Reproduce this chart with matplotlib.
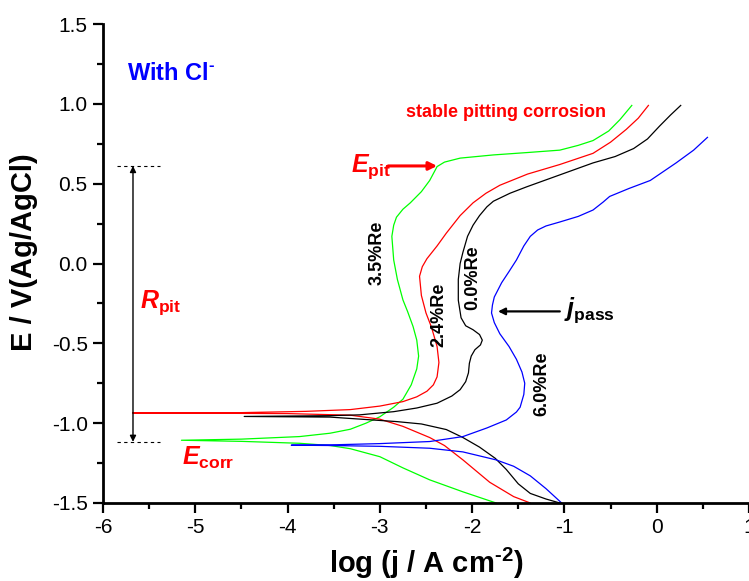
import matplotlib
matplotlib.use('Agg')
import matplotlib.pyplot as plt

plt.rcParams['font.family'] = ['Liberation Sans', 'DejaVu Sans']
plt.rcParams['mathtext.fontset'] = 'custom'
plt.rcParams['mathtext.rm'] = 'Liberation Sans:bold'
plt.rcParams['mathtext.bf'] = 'Liberation Sans:bold'
plt.rcParams['mathtext.it'] = 'Liberation Sans:italic:bold'

# curves: cathodic branch (from -1.5 V up to Ecorr), then anodic branch
red_x = [-1.37, -1.55, -1.81, -2.10, -2.30, -2.46, -2.75, -3.00, -3.32, -4.00, -5.68,
         -4.50, -3.80, -3.32, -3.00, -2.75, -2.60, -2.49, -2.42, -2.38, -2.36, -2.38, -2.44,
         -2.50, -2.55, -2.57, -2.54, -2.49, -2.38, -2.28, -2.13, -1.99, -1.85, -1.70, -1.40,
         -1.05, -0.69, -0.50, -0.33, -0.20, -0.09]
red_y = [-1.50, -1.46, -1.37, -1.23, -1.14, -1.09, -1.02, -0.975, -0.950, -0.940, -0.936,
         -0.934, -0.926, -0.915, -0.893, -0.865, -0.835, -0.800, -0.76, -0.71, -0.62, -0.52, -0.40,
         -0.31, -0.20, -0.08, -0.02, 0.03, 0.11, 0.19, 0.30, 0.38, 0.44, 0.49, 0.56,
         0.62, 0.69, 0.76, 0.84, 0.91, 0.99]

green_x = [-1.74, -2.10, -2.46, -2.75, -3.00, -3.32, -3.54, -3.87, -4.50, -5.15,
           -4.50, -3.87, -3.54, -3.32, -3.15, -3.00, -2.85, -2.75, -2.66, -2.60, -2.58, -2.60,
           -2.64, -2.70, -2.75, -2.81, -2.85, -2.87, -2.85, -2.82, -2.75, -2.67, -2.55, -2.46,
           -2.40, -2.38, -2.30, -2.13, -1.77, -1.40, -1.05, -0.85, -0.69, -0.52, -0.40, -0.27]
green_y = [-1.50, -1.43, -1.355, -1.28, -1.21, -1.16, -1.14, -1.126, -1.114, -1.107,
           -1.100, -1.084, -1.063, -1.038, -1.00, -0.96, -0.90, -0.85, -0.76, -0.66, -0.58, -0.48,
           -0.395, -0.30, -0.228, -0.10, 0.022, 0.17, 0.24, 0.29, 0.34, 0.38, 0.45, 0.52,
           0.585, 0.607, 0.635, 0.66, 0.68, 0.695, 0.71, 0.74, 0.77, 0.83, 0.90, 0.99]

black_x = [-1.05, -1.20, -1.37, -1.50, -1.63, -1.75, -1.92, -2.10, -2.28, -2.55, -2.82, -3.54, -4.47,
           -3.54, -3.22, -2.85, -2.60, -2.38, -2.22, -2.13, -2.07, -2.04, -2.03, -2.01, -1.97,
           -1.91, -1.89, -1.92, -1.99, -2.07, -2.12, -2.15, -2.15, -2.13, -2.10, -2.05, -1.99,
           -1.92, -1.84, -1.77, -1.59, -1.41, -1.05, -0.69, -0.45, -0.25, -0.10, 0.03, 0.15, 0.26]
black_y = [-1.50, -1.475, -1.44, -1.38, -1.29, -1.22, -1.15, -1.09, -1.04, -1.005, -0.99, -0.962, -0.958,
           -0.953, -0.948, -0.928, -0.905, -0.875, -0.83, -0.79, -0.74, -0.685, -0.625, -0.58, -0.54,
           -0.51, -0.48, -0.445, -0.415, -0.39, -0.34, -0.23, -0.10, 0.0, 0.07, 0.17, 0.24,
           0.30, 0.355, 0.39, 0.44, 0.48, 0.555, 0.63, 0.67, 0.72, 0.78, 0.86, 0.93, 0.99]

blue_x = [-1.03, -1.20, -1.37, -1.55, -1.74, -2.10, -2.46, -3.00, -3.54, -3.96,
          -3.54, -3.00, -2.46, -2.10, -1.84, -1.63, -1.52, -1.48, -1.44, -1.43, -1.46, -1.52,
          -1.60, -1.70, -1.76, -1.79, -1.78, -1.76, -1.68, -1.60, -1.52, -1.44, -1.37, -1.29, -1.20,
          -1.05, -0.85, -0.69, -0.58, -0.51, -0.30, -0.07, 0.21, 0.40, 0.55]
blue_y = [-1.50, -1.41, -1.33, -1.27, -1.23, -1.18, -1.157, -1.145, -1.140, -1.138,
          -1.136, -1.128, -1.115, -1.084, -1.03, -0.98, -0.93, -0.90, -0.82, -0.75, -0.68, -0.60,
          -0.52, -0.44, -0.37, -0.31, -0.26, -0.21, -0.12, -0.05, 0.022, 0.11, 0.17, 0.21, 0.235,
          0.26, 0.295, 0.335, 0.385, 0.42, 0.47, 0.52, 0.63, 0.71, 0.79]

labels = ['3.5%Re', '2.4%Re', '0.0%Re', '6.0%Re']
label_pos = [(-3.03, 0.07), (-2.36, -0.32), (-1.99, -0.09), (-1.24, -0.75)]

E_pit = 0.611
E_corr = -1.117

fig = plt.figure(figsize=(7.49, 5.81), dpi=100)
ax = fig.add_axes([103/749, 78/581, 646/749, 479/581])

ax.plot(green_x, green_y, color='#00ff00', lw=0.9)
ax.plot(red_x, red_y, color='#ff0000', lw=0.9)
ax.plot(black_x, black_y, color='black', lw=0.9)
ax.plot(blue_x, blue_y, color='#0000ff', lw=0.9)

# R_pit range marker
ax.plot([-5.85, -5.38], [E_pit, E_pit], color='black', lw=0.8, dashes=(3, 3))
ax.plot([-5.85, -5.38], [E_corr, E_corr], color='black', lw=0.8, dashes=(3, 3))
ax.annotate('', xy=(-5.675, E_pit), xytext=(-5.675, E_corr),
            arrowprops=dict(arrowstyle='<|-|>', color='black', lw=1.0,
                            mutation_scale=9, shrinkA=0, shrinkB=0))

# E_pit arrow
ax.annotate('', xy=(-2.38, E_pit), xytext=(-2.91, E_pit),
            arrowprops=dict(arrowstyle='-|>', color='#ff0000', lw=2.2,
                            mutation_scale=12, shrinkA=0, shrinkB=0))
# j_pass arrow
ax.annotate('', xy=(-1.72, -0.30), xytext=(-1.05, -0.30),
            arrowprops=dict(arrowstyle='-|>', color='black', lw=1.6,
                            mutation_scale=10, shrinkA=0, shrinkB=0))

ax.text(-5.74, 1.149, r'With Cl$^{\text{-}}$', color='#0000ff', fontsize=17, fontweight='bold')
ax.text(-2.717, 0.92, 'stable pitting corrosion', color='#ff0000', fontsize=13, fontweight='bold')
ax.text(-3.31, 0.573, r'$\mathit{E}_{\mathbf{pit}}$', color='#ff0000', fontsize=18)
ax.text(-5.60, -0.278, r'$\mathit{R}_{\mathbf{pit}}$', color='#ff0000', fontsize=18)
ax.text(-5.147, -1.261, r'$\mathit{E}_{\mathbf{corr}}$', color='#ff0000', fontsize=18)
ax.text(-1.0, -0.328, r'$\mathit{j}_{\mathbf{pass}}$', color='black', fontsize=18)

for lab, (lx, ly) in zip(labels, label_pos):
    ax.text(lx, ly, lab, rotation=90, ha='center', va='center', fontsize=13, fontweight='bold')

ax.set_xlim(-6, 1)
ax.set_ylim(-1.5, 1.5)
ax.set_xticks([-6, -5, -4, -3, -2, -1, 0, 1])
ax.set_xticks([-5.5, -4.5, -3.5, -2.5, -1.5, -0.5, 0.5], minor=True)
ax.set_yticks([-1.5, -1.0, -0.5, 0.0, 0.5, 1.0, 1.5])
ax.set_yticks([-1.25, -0.75, -0.25, 0.25, 0.75, 1.25], minor=True)
ax.set_yticklabels(['-1.5', '-1.0', '-0.5', '0.0', '0.5', '1.0', '1.5'])
ax.set_xticklabels(['-6', '-5', '-4', '-3', '-2', '-1', '0', '1'])

ax.spines['top'].set_visible(False)
ax.spines['right'].set_visible(False)
ax.spines['left'].set_linewidth(2)
ax.spines['bottom'].set_linewidth(2)
ax.tick_params(which='major', direction='out', length=7, width=1.6, labelsize=15, pad=4)
ax.tick_params(which='minor', direction='out', length=4, width=1.6)

ax.set_xlabel(r'log (j / A cm$^{\text{-2}}$)', fontsize=21, fontweight='bold')
ax.set_ylabel('E / V(Ag/AgCl)', fontsize=21, fontweight='bold')
ax.xaxis.set_label_coords(0.5, -0.09)
ax.yaxis.set_label_coords(-0.1, 0.524)

fig.savefig('out.png', dpi=100)
